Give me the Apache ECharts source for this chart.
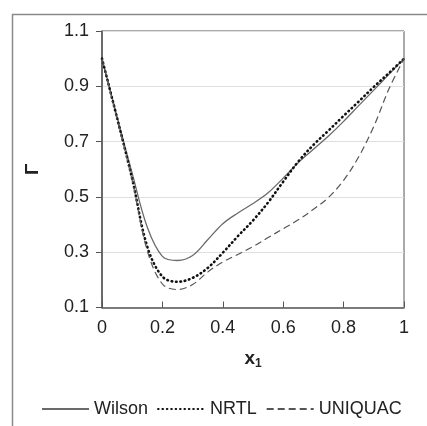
<!DOCTYPE html>
<html>
<head>
<meta charset="utf-8">
<script src="https://cdn.jsdelivr.net/npm/echarts@6/dist/echarts.min.js"></script>
<style>
html,body{margin:0;padding:0;background:#fff;}
#chart{width:427px;height:426px;}
</style>
</head>
<body>
<div id="chart"></div>
<script>
var xValues = [0, 0.05, 0.1, 0.15, 0.2, 0.25, 0.3, 0.35, 0.4, 0.45, 0.5, 0.55, 0.6, 0.65, 0.7, 0.75, 0.8, 0.85, 0.9, 0.95, 1.0];
var wilson  = [1.0, 0.79, 0.585, 0.39, 0.285, 0.27, 0.288, 0.345, 0.403, 0.442, 0.476, 0.515, 0.568, 0.624, 0.672, 0.72, 0.773, 0.83, 0.886, 0.943, 1.0];
var nrtl    = [1.0, 0.785, 0.565, 0.32, 0.212, 0.193, 0.207, 0.243, 0.298, 0.358, 0.415, 0.48, 0.555, 0.628, 0.688, 0.74, 0.793, 0.845, 0.898, 0.948, 1.0];
var uniquac = [1.0, 0.78, 0.56, 0.305, 0.185, 0.165, 0.183, 0.228, 0.265, 0.292, 0.32, 0.353, 0.385, 0.417, 0.455, 0.498, 0.56, 0.645, 0.755, 0.89, 1.0];
var seriesNames = ['Wilson', 'NRTL', 'UNIQUAC'];
var xTicks = [0, 0.2, 0.4, 0.6, 0.8, 1];
var yTicks = [0.1, 0.3, 0.5, 0.7, 0.9, 1.1];

function pairs(ys) { return xValues.map(function (x, i) { return [x, ys[i]]; }); }

var font = '"Liberation Sans", Arial, sans-serif';
var chart = echarts.init(document.getElementById('chart'), null, {renderer: 'canvas'});
chart.setOption({
  backgroundColor: '#ffffff',
  animation: false,
  graphic: [{
    type: 'rect', left: 10, top: 12, shape: {x: 0, y: 0, width: 440, height: 440},
    style: {fill: 'none', stroke: '#8a8a8a', lineWidth: 1.5}, silent: true, z: -1
  }],
  grid: {left: 102, right: 23, top: 31, bottom: 118.5, show: true, borderColor: '#555', borderWidth: 1, backgroundColor: 'transparent'},
  legend: {
    data: seriesNames, left: 36, top: 395, itemWidth: 47, itemHeight: 14, itemGap: 9,
    itemStyle: {opacity: 0},
    textStyle: {fontFamily: font, fontSize: 18, color: '#222'}
  },
  xAxis: {
    type: 'value', min: xTicks[0], max: xTicks[xTicks.length - 1], interval: 0.2,
    name: '{b|x}{s|1}', nameLocation: 'middle', nameGap: 40,
    nameTextStyle: {rich: {b: {fontFamily: font, fontSize: 19, fontWeight: 'bold', color: '#222'}, s: {fontFamily: font, fontSize: 12, fontWeight: 'bold', color: '#222', padding: [10, 0, 0, 0]}}},
    axisLine: {lineStyle: {color: '#555', width: 1.5}},
    axisTick: {inside: true, length: 6, lineStyle: {color: '#555'}},
    axisLabel: {fontFamily: font, fontSize: 18, color: '#222', margin: 12},
    splitLine: {show: false}
  },
  yAxis: {
    type: 'value', min: yTicks[0], max: yTicks[yTicks.length - 1], interval: 0.2,
    name: 'Γ', nameLocation: 'middle', nameGap: 60, nameRotate: 90,
    nameTextStyle: {fontFamily: font, fontSize: 19, fontWeight: 'bold', color: '#222'},
    axisLine: {lineStyle: {color: '#555', width: 1.5}},
    axisTick: {inside: false, length: 6, lineStyle: {color: '#555'}},
    axisLabel: {fontFamily: font, fontSize: 18, color: '#222', margin: 13, formatter: function (v) { return v.toFixed(1); }},
    splitLine: {show: true, lineStyle: {color: '#e0e0e0', width: 1.2}}
  },
  series: [
    {name: seriesNames[0], type: 'line', data: pairs(wilson), smooth: 0.35, showSymbol: false, symbol: 'none',
     lineStyle: {color: '#6a6a6a', width: 1.3, type: 'solid'}, itemStyle: {color: '#6a6a6a'}},
    {name: seriesNames[1], type: 'line', data: pairs(nrtl), smooth: 0.35, showSymbol: false, symbol: 'none',
     lineStyle: {color: '#111', width: 2.6, type: [0.6, 3.8], cap: 'round'}, itemStyle: {color: '#111'}},
    {name: seriesNames[2], type: 'line', data: pairs(uniquac), smooth: 0.35, showSymbol: false, symbol: 'none',
     lineStyle: {color: '#555', width: 1.2, type: [7, 4]}, itemStyle: {color: '#555'}}
  ]
});
</script>
</body>
</html>
